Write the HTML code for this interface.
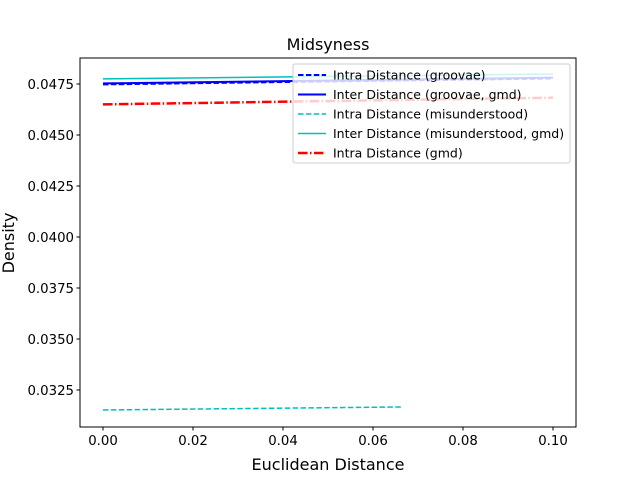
<!DOCTYPE html>
<html><head><meta charset="utf-8"><style>body{margin:0;background:#fff}svg{font-family:"DejaVu Sans","Liberation Sans",sans-serif}</style></head>
<body>
<svg id="chart" width="640" height="480"></svg>
<script>
const xTicks=[0.00,0.02,0.04,0.06,0.08,0.10];
const yTicks=[0.0325,0.0350,0.0375,0.0400,0.0425,0.0450,0.0475];
const seriesNames=["Intra Distance (groovae)","Inter Distance (groovae, gmd)","Intra Distance (misunderstood)","Inter Distance (misunderstood, gmd)","Intra Distance (gmd)"];
const seriesX=[[0,0.1],[0,0.1],[0,0.0667],[0,0.1],[0,0.1]];
const seriesY=[[0.04748,0.04777],[0.04753,0.04781],[0.03152,0.03167],[0.04775,0.04799],[0.04650,0.04683]];
const colors=["#0000ff","#0000ff","#00bfbf","#00bfbf","#ff0000"];
const dashes=["5.5,2.4","","5.5,2.4","","9.6,2.4,1.5,2.4"];
const widths=[2,2,1.5,1.5,2.5];
const NS="http://www.w3.org/2000/svg",svg=document.getElementById('chart');
const L=80,R=576,T=58,B=427;
const xs=v=>103+v*4500, ys=v=>84+(0.0475-v)/0.0025*51;
function el(t,a,p){const e=document.createElementNS(NS,t);for(const k in a)e.setAttribute(k,a[k]);(p||svg).appendChild(e);return e;}
function tx(x,y,s,sz,anc,extra){const e=el('text',Object.assign({x:x,y:y,'font-size':sz,'text-anchor':anc||'middle',fill:'#000'},extra||{}));e.textContent=s;return e;}
seriesY.forEach((ys_,i)=>{const pts=seriesX[i].map((x,j)=>xs(x)+','+ys(ys_[j])).join(' ');
const p=el('polyline',{points:pts,fill:'none',stroke:colors[i],'stroke-width':widths[i],'stroke-dasharray':dashes[i]});

});
const f=el('rect',{x:L,y:T,width:R-L,height:B-T,fill:'none',stroke:'#000','stroke-width':1});

xTicks.forEach(v=>{const x=xs(v);el('line',{x1:x,x2:x,y1:B,y2:B+3.5,stroke:'#000'});const t=tx(x,B+18,v.toFixed(2),13.3);
});
yTicks.forEach(v=>{const y=ys(v);el('line',{x1:L-3.5,x2:L,y1:y,y2:y,stroke:'#000'});const t=tx(L-6,y+5,v.toFixed(4),13.3,'end');
});
const ti=tx(328,50,'Midsyness',16);
const xl=tx(328,470,'Euclidean Distance',16);
const yl=tx(14,243,'Density',16,'middle',{transform:'rotate(-90 14 243)'});
const lg=el('g',{});
el('rect',{x:293,y:64,width:277,height:99,rx:2,fill:'rgba(255,255,255,0.8)',stroke:'#ccc'},lg);
seriesNames.forEach((n,i)=>{const y=75+i*19.5;
const ln=el('line',{x1:298,x2:326,y1:y,y2:y,stroke:colors[i],'stroke-width':widths[i],'stroke-dasharray':dashes[i]},lg);

const t=el('text',{x:333,y:y+4.5,'font-size':12.5},lg);t.textContent=n;
});
</script>
</body></html>
